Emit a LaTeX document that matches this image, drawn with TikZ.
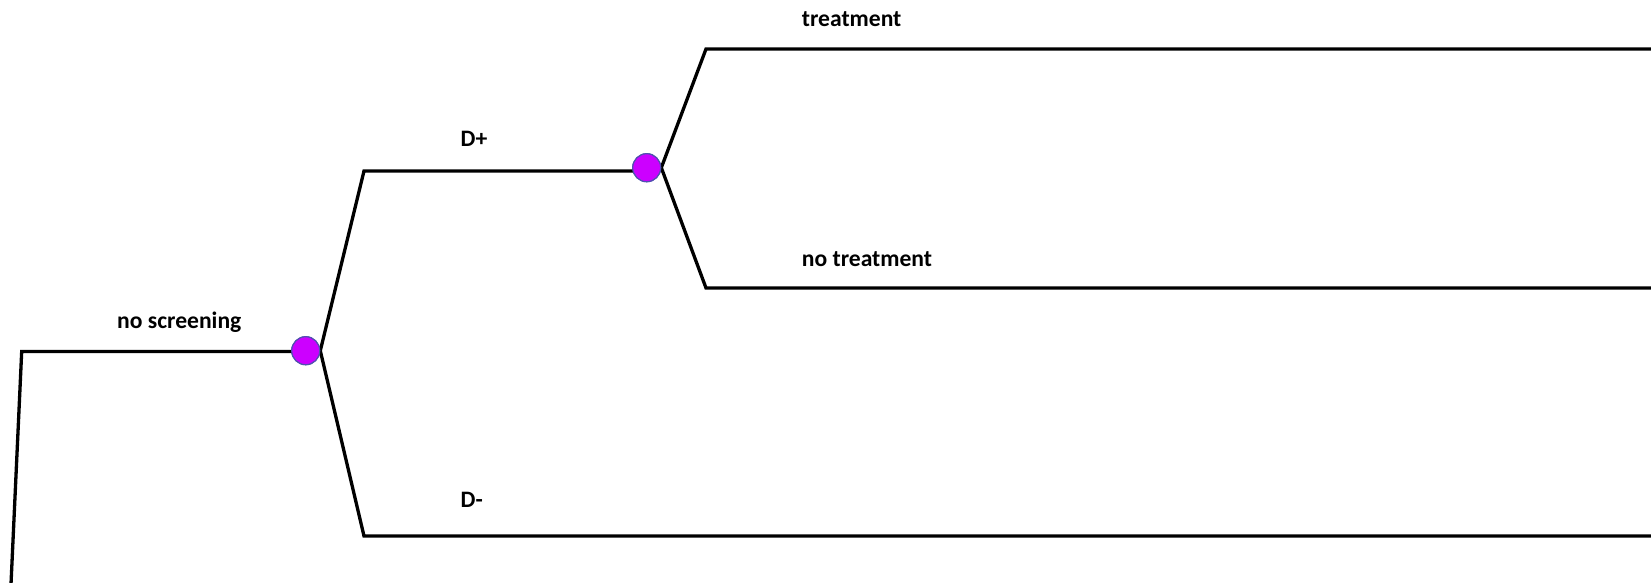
\documentclass[tikz,border=0pt]{standalone}
\usepackage{fontspec}
\setmainfont{Carlito}
\begin{document}
\begin{tikzpicture}[x=1pt,y=-1pt,
  branch/.style={draw=black,line width=3.3pt,line join=miter},
  chance/.style={circle,draw={rgb,255:red,80;green,80;blue,176},line width=1.2pt,
                 fill={rgb,255:red,204;green,0;blue,255},minimum size=28pt,inner sep=0pt},
  lbl/.style={anchor=base west,inner sep=0pt,font=\fontsize{23.6}{28}\selectfont\bfseries}]
\useasboundingbox (0,0) rectangle (1651,582);
\clip (0,0) rectangle (1651,582);

% decision root and corner points of the tree
\coordinate (rootlow) at (10.5,595);
\coordinate (root) at (21.7,351.5);
\coordinate (dpc) at (364,171);
\coordinate (dmc) at (364,536);
\coordinate (trc) at (706,49);
\coordinate (ntc) at (706,288);
\coordinate (dmend) at (1660,536);
\coordinate (trend) at (1660,49);
\coordinate (ntend) at (1660,288);

% chance nodes
\node[chance] (c1) at (305.7,350.7) {};
\node[chance] (c2) at (646.7,167.7) {};

% branches
\draw[branch] (rootlow) -- (root) -- (root -| c1);
\draw[branch] (c1.east) -- (dpc) -- (dpc -| c2);
\draw[branch] (c1.east) -- (dmc) -- (dmend);
\draw[branch] (c2.east) -- (trc) -- (trend);
\draw[branch] (c2.east) -- (ntc) -- (ntend);

% chance nodes drawn again on top of the branch ends
\node[chance] at (c1) {};
\node[chance] at (c2) {};

% branch labels
\node[lbl] (lns) at (117,328) {no screening};
\node[lbl] (ldp) at (460.5,146.7) {D+};
\node[lbl] (ldm) at (460.5,507.7) {D-};
\node[lbl] (ltr) at (801.7,26.7) {treatment};
\node[lbl] (lnt) at (801.7,266.7) {no treatment};
\end{tikzpicture}
\end{document}
